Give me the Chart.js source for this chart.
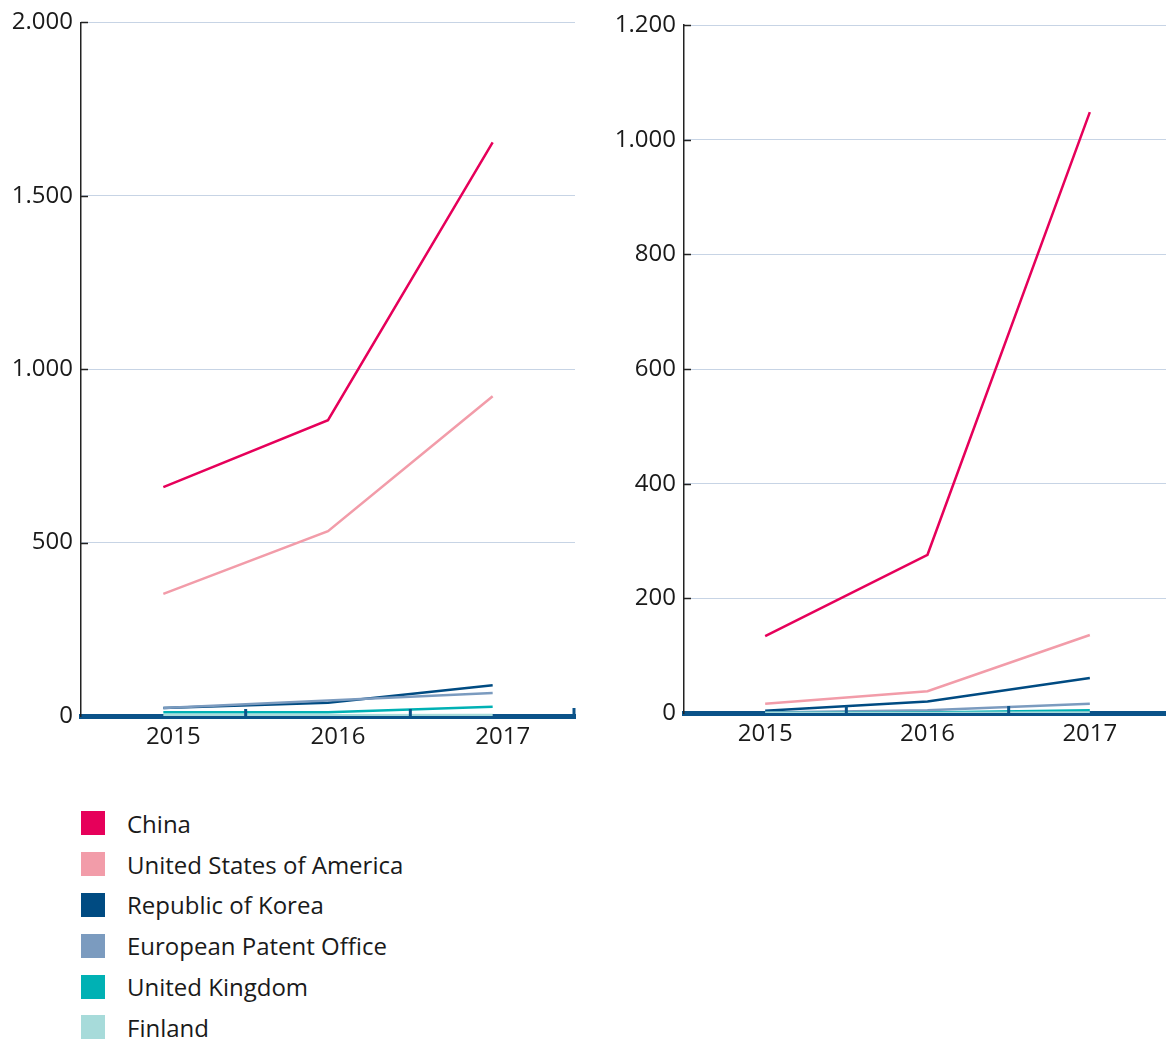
<!DOCTYPE html>
<html>
<head>
<meta charset="utf-8">
<script src="https://cdn.jsdelivr.net/npm/chart.js@4"></script>
<style>
  html, body { margin: 0; padding: 0; background: #fff; overflow: hidden; width: 1166px; height: 1041px; }
  #left { position: absolute; left: 0; top: 0; width: 585px; height: 770px; }
  #right { position: absolute; left: 590px; top: 0; width: 581px; height: 770px; }
  #legend { position: absolute; left: 81px; top: 803px; font-family: "Open Sans", sans-serif; font-size: 24px; color: #1a1a1a; }
  .item { height: 40.8px; display: flex; align-items: center; }
  .sw { width: 24px; height: 24px; margin-right: 22px; flex: none; }
</style>
</head>
<body>
<div id="left"><canvas id="c1"></canvas></div>
<div id="right"><canvas id="c2"></canvas></div>
<div id="legend"></div>
<script>
const years = ["2015", "2016", "2017"];
const seriesNames = ["China", "United States of America", "Republic of Korea", "European Patent Office", "United Kingdom", "Finland"];
const seriesColors = ["#e6005a", "#f29ca9", "#004b82", "#7b9bbf", "#00b1b4", "#a7dbda"];

// Left chart values
const leftChina   = [660, 853, 1654];
const leftUSA     = [352, 533, 922];
const leftKorea   = [23, 38, 89];
const leftEPO     = [23, 45, 66];
const leftUK      = [11, 11, 27];
const leftFinland = [2, 2, 3];
const leftYTicks  = { max: 2000, step: 500 };

// Right chart values
const rightChina   = [134, 276, 1048];
const rightUSA     = [16, 38, 136];
const rightKorea   = [4, 20, 61];
const rightEPO     = [1, 5, 16];
const rightUK      = [0, 1, 5];
const rightFinland = [0, 0, 1];
const rightYTicks  = { max: 1200, step: 200 };

const FONT = "'Open Sans', sans-serif";
const AXIS_BLUE = "#0b5389";

function fmt(v) {
  return String(v).replace(/\B(?=(\d{3})+(?!\d))/g, ".");
}

const deco = {
  id: "deco",
  afterDraw(chart, args, opts) {
    const ctx = chart.ctx, xs = chart.scales.x, ys = chart.scales.y, a = chart.chartArea;
    ctx.save();
    ctx.strokeStyle = "#222";
    ctx.lineWidth = 1.5;
    ys.ticks.forEach((t, i) => {
      if (t.value === 0) return;
      const py = Math.round(ys.getPixelForTick(i)) + 0.5;
      ctx.beginPath();
      ctx.moveTo(a.left, py);
      ctx.lineTo(a.left + 7, py);
      ctx.stroke();
    });
    ctx.strokeStyle = AXIS_BLUE;
    ctx.lineWidth = 3;
    for (let i = 1; i < xs.ticks.length; i++) {
      const px = (xs.getPixelForTick(i - 1) + xs.getPixelForTick(i)) / 2;
      ctx.beginPath();
      ctx.moveTo(px, a.bottom);
      ctx.lineTo(px, a.bottom - 7);
      ctx.stroke();
    }
    if (opts.endMark) {
      ctx.lineWidth = 3;
      ctx.beginPath();
      ctx.moveTo(a.right - 1, a.bottom + 1);
      ctx.lineTo(a.right - 1, a.bottom - 8);
      ctx.stroke();
    }
    ctx.restore();
  }
};

function makeChart(id, data, yt, opts) {
  const datasets = data.map((vals, i) => ({
    label: seriesNames[i],
    data: vals,
    borderColor: seriesColors[i],
    backgroundColor: seriesColors[i],
    borderWidth: 2.5,
    pointRadius: 0,
    tension: 0,
    fill: false
  })).reverse();
  return new Chart(document.getElementById(id), {
    type: "line",
    data: { labels: years, datasets },
    plugins: [deco],
    options: {
      responsive: true,
      maintainAspectRatio: false,
      animation: false,
      layout: { padding: { top: opts.top, right: opts.right, bottom: 0, left: 0 } },
      plugins: {
        legend: { display: false },
        tooltip: { enabled: false },
        deco: { endMark: opts.endMark }
      },
      scales: {
        x: {
          offset: true,
          grid: { display: false, drawTicks: false },
          border: { display: true, color: AXIS_BLUE, width: 5 },
          ticks: { font: { family: FONT, size: 24 }, color: "#1a1a1a", padding: 7, maxRotation: 0, labelOffset: opts.labelOffset },
          afterFit(s) { s.height = opts.xh; }
        },
        y: {
          min: 0,
          max: yt.max,
          grid: { color: "#c7d4e5", lineWidth: 1, drawTicks: false },
          border: { display: true, color: "#222", width: 1.5 },
          ticks: { stepSize: yt.step, font: { family: FONT, size: 24 }, color: "#1a1a1a", padding: 8, callback: v => fmt(v) },
          afterFit(s) { s.width = opts.yw; }
        }
      }
    }
  });
}

makeChart("c1", [leftChina, leftUSA, leftKorea, leftEPO, leftUK, leftFinland], leftYTicks,
  { top: 22, right: 10, xh: 54, yw: 81, endMark: true, labelOffset: 10 });
makeChart("c2", [rightChina, rightUSA, rightKorea, rightEPO, rightUK, rightFinland], rightYTicks,
  { top: 25, right: 0, xh: 57, yw: 94, endMark: false, labelOffset: 0 });

const lg = document.getElementById("legend");
seriesNames.forEach((n, i) => {
  const d = document.createElement("div");
  d.className = "item";
  const s = document.createElement("span");
  s.className = "sw";
  s.style.background = seriesColors[i];
  const t = document.createElement("span");
  t.textContent = n;
  d.appendChild(s);
  d.appendChild(t);
  lg.appendChild(d);
});
</script>
</body>
</html>
